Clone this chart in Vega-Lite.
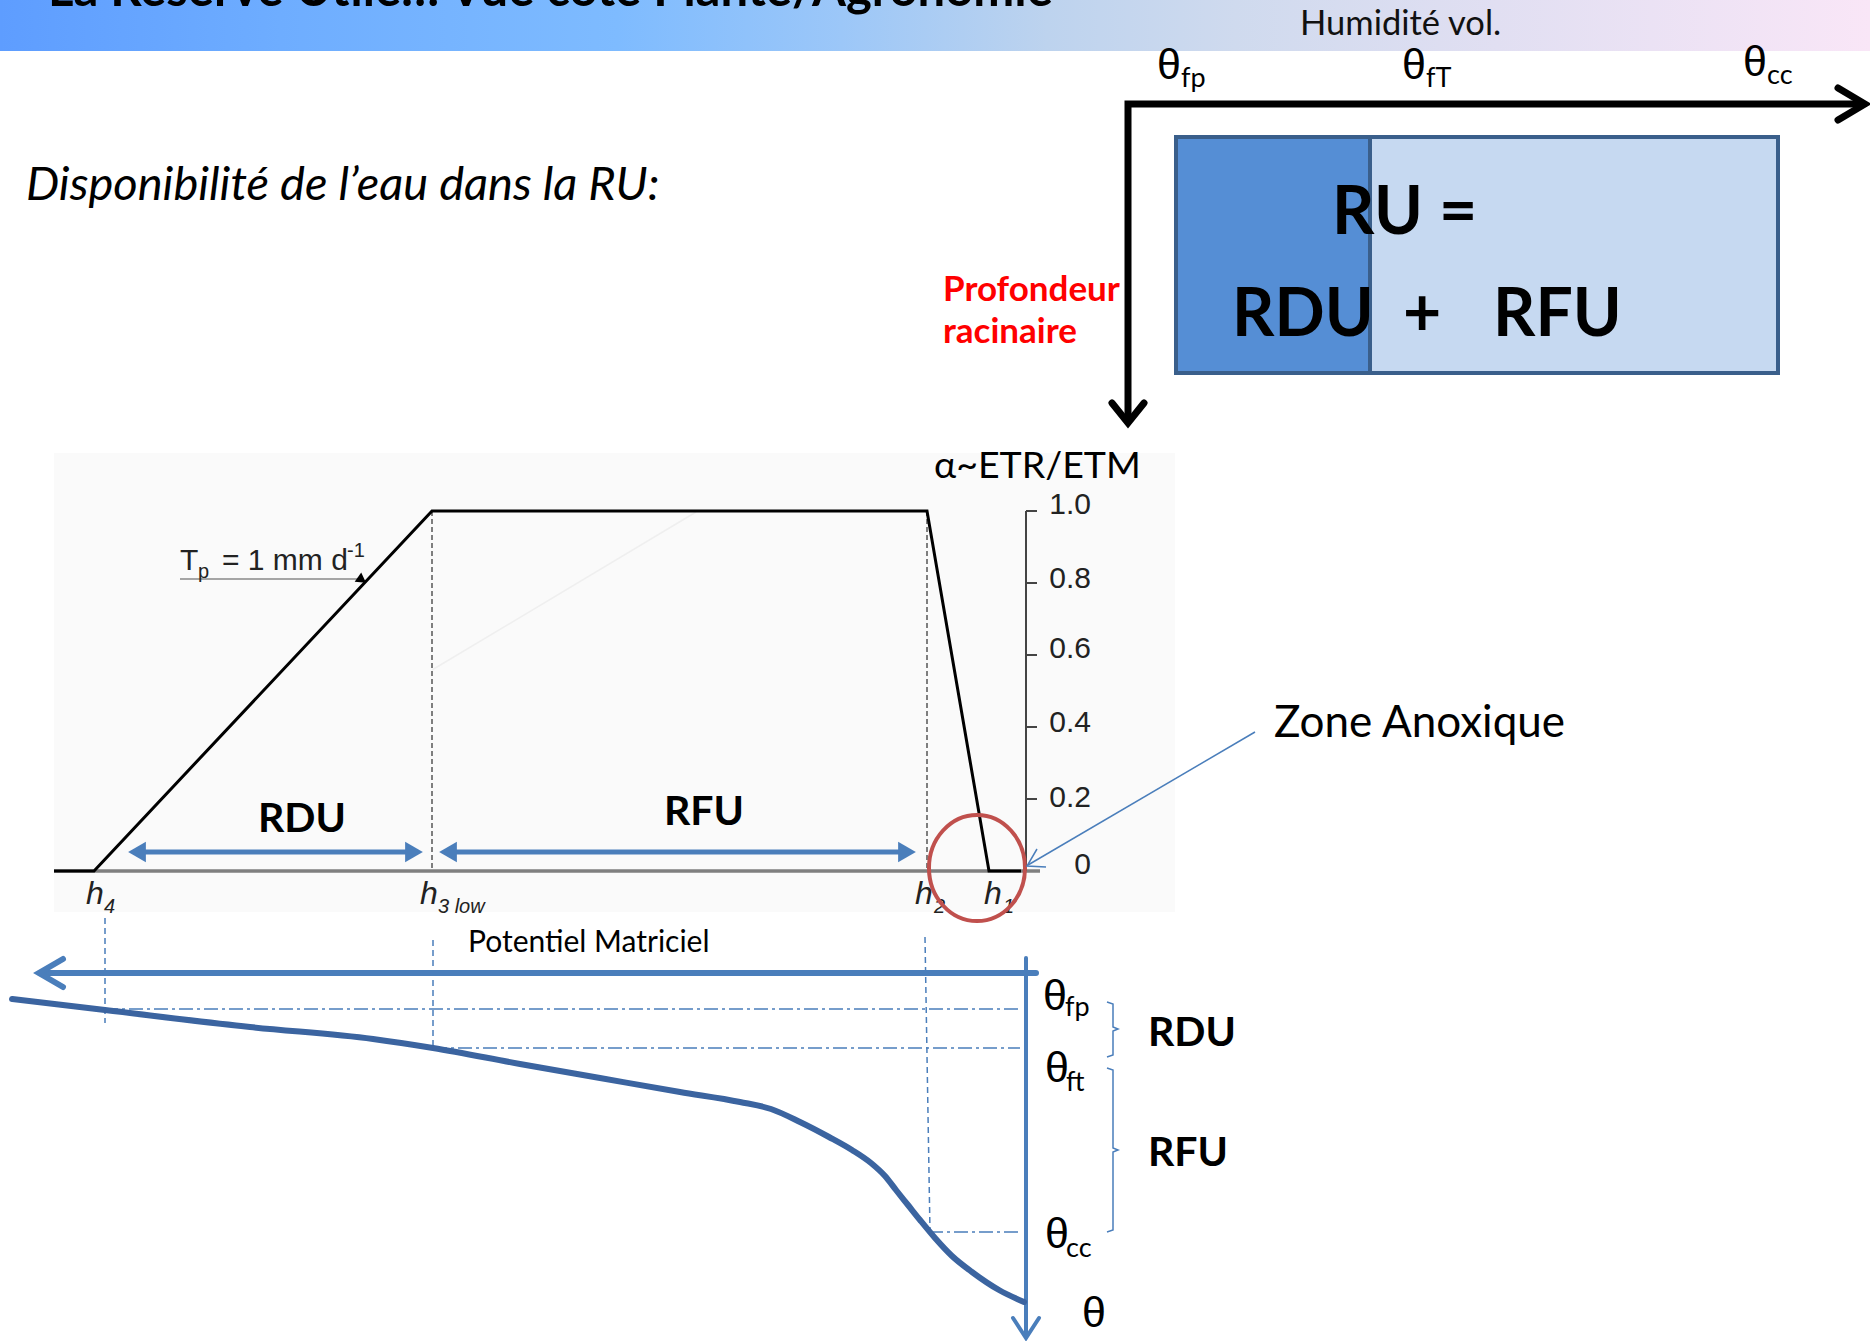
{
"$schema": "https://vega.github.io/schema/vega-lite/v6.json",
"width": 1870, "height": 1341, "autosize": "none", "padding": 0,
"background": "white",
"config": {"view": {"stroke": null}},
"datasets": {
"bar": [{"x":0,"x2":1870,"y":0,"y2":51}],
"title": [{"x":48,"y":6,"t":"La Réserve Utile… Vue côté Plante/Agronomie"}],
"humid": [{"x":1300,"y":35,"t":"Humidité vol."}],
"theta": [{"x":1157,"y":79,"t":"θ"},{"x":1402,"y":79,"t":"θ"},{"x":1743,"y":76,"t":"θ"},{"x":1043,"y":1010,"t":"θ"},{"x":1045,"y":1082,"t":"θ"},{"x":1045,"y":1248,"t":"θ"},{"x":1082,"y":1327,"t":"θ"}],
"subs": [{"x":1181,"y":87,"t":"fp"},{"x":1426,"y":87,"t":"fT"},{"x":1767,"y":84,"t":"cc"},{"x":1065,"y":1016,"t":"fp"},{"x":1066,"y":1091,"t":"ft"},{"x":1066,"y":1257,"t":"cc"}],
"blackAxes": [{"g":"L","o":1,"x":1128,"y":421},{"g":"L","o":2,"x":1128,"y":104},{"g":"L","o":3,"x":1860,"y":104},{"g":"H","o":1,"x":1838,"y":88},{"g":"H","o":2,"x":1865,"y":104},{"g":"H","o":3,"x":1838,"y":120},{"g":"V","o":1,"x":1112,"y":403},{"g":"V","o":2,"x":1128,"y":423},{"g":"V","o":3,"x":1144,"y":403}],
"ru": [{"x":1176,"x2":1370,"y":137,"y2":373,"part":"RDU"},{"x":1370,"x2":1778,"y":137,"y2":373,"part":"RFU"}],
"ruText": [{"x":1332,"y":234,"t":"RU ="},{"x":1232,"y":336,"t":"RDU"},{"x":1403,"y":336,"t":"+"},{"x":1493,"y":336,"t":"RFU"}],
"prof": [{"x":943,"y":301,"t":"Profondeur"},{"x":943,"y":343,"t":"racinaire"}],
"dispo": [{"x":26,"y":200,"t":"Disponibilité de l’eau dans la RU:"}],
"fbg": [{"x":54,"x2":1175,"y":453,"y2":912}],
"fbase": [{"x":54,"x2":1040,"y":871,"y2":871}],
"fdash": [{"x":432,"x2":432,"y":511,"y2":871},{"x":927,"x2":927,"y":511,"y2":871}],
"faint": [{"x":432,"x2":696,"y":670,"y2":512}],
"feddes": [{"o":1,"x":54,"y":871},{"o":2,"x":94,"y":871},{"o":3,"x":432,"y":511},{"o":4,"x":927,"y":511},{"o":5,"x":989,"y":871},{"o":6,"x":1021,"y":871}],
"faxis": [{"x":1026,"x2":1026,"y":511,"y2":871},{"x":1026,"x2":1037,"y":511,"y2":511},{"x":1026,"x2":1037,"y":583,"y2":583},{"x":1026,"x2":1037,"y":655,"y2":655},{"x":1026,"x2":1037,"y":727,"y2":727},{"x":1026,"x2":1037,"y":799,"y2":799}],
"flabels": [{"x":1091,"y":505,"t":"1.0"},{"x":1091,"y":579,"t":"0.8"},{"x":1091,"y":649,"t":"0.6"},{"x":1091,"y":723,"t":"0.4"},{"x":1091,"y":798,"t":"0.2"},{"x":1091,"y":865,"t":"0"}],
"alpha": [{"x":934,"y":478,"t":"α~ETR/ETM"}],
"tpBig": [{"x":180,"y":570,"t":"T"},{"x":222,"y":570,"t":"= 1 mm d"}],
"tpSmall": [{"x":198,"y":578,"t":"p"},{"x":347,"y":557,"t":"-1"}],
"tpLine": [{"x":180,"x2":362,"y":579,"y2":579}],
"tpHead": [{"x":362,"y":580}],
"blueArrows": [{"x":137,"x2":414,"y":852,"y2":852},{"x":448,"x2":907,"y":852,"y2":852}],
"blueHeadsL": [{"x":137,"y":852},{"x":448,"y":852}],
"blueHeadsR": [{"x":414,"y":852},{"x":907,"y":852}],
"rduRfuMid": [{"x":302,"y":832,"t":"RDU"},{"x":704,"y":825,"t":"RFU"}],
"rduRfuRight": [{"x":1148,"y":1046,"t":"RDU"},{"x":1148,"y":1166,"t":"RFU"}],
"ellipse": [{"x":977,"y":868}],
"zone": [{"g":"a","o":1,"x":1255,"y":732},{"g":"a","o":2,"x":1028,"y":865},{"g":"h","o":1,"x":1037,"y":849},{"g":"h","o":2,"x":1027,"y":866},{"g":"h","o":3,"x":1046,"y":867}],
"zoneText": [{"x":1274,"y":737,"t":"Zone Anoxique"}],
"hBig": [{"x":86,"y":904,"t":"h"},{"x":420,"y":904,"t":"h"},{"x":915,"y":904,"t":"h"},{"x":984,"y":904,"t":"h"}],
"hSub": [{"x":104,"y":913,"t":"4"},{"x":438,"y":913,"t":"3 low"},{"x":934,"y":913,"t":"2"},{"x":1003,"y":913,"t":"1"}],
"potentiel": [{"x":468,"y":952,"t":"Potentiel Matriciel"}],
"bDash": [{"x":105,"x2":105,"y":918,"y2":1023},{"x":433,"x2":433,"y":940,"y2":1048},{"x":925,"x2":930,"y":937,"y2":1232}],
"bDashDot": [{"x":104,"x2":1020,"y":1009,"y2":1009},{"x":433,"x2":1020,"y":1048,"y2":1048},{"x":929,"x2":1020,"y":1232,"y2":1232}],
"bH": [{"g":"l","o":1,"x":1036,"y":973},{"g":"l","o":2,"x":40,"y":973},{"g":"c","o":1,"x":63,"y":959},{"g":"c","o":2,"x":39,"y":973},{"g":"c","o":3,"x":63,"y":987}],
"bV": [{"g":"l","o":1,"x":1026,"y":958},{"g":"l","o":2,"x":1026,"y":1334},{"g":"c","o":1,"x":1013,"y":1318},{"g":"c","o":2,"x":1026,"y":1338},{"g":"c","o":3,"x":1039,"y":1318}],
"curve": [{"o":1,"x":12,"y":999},{"o":2,"x":105,"y":1010},{"o":3,"x":250,"y":1027},{"o":4,"x":373,"y":1039},{"o":5,"x":433,"y":1048},{"o":6,"x":520,"y":1064},{"o":7,"x":600,"y":1078},{"o":8,"x":680,"y":1092},{"o":9,"x":740,"y":1102},{"o":10,"x":771,"y":1109},{"o":11,"x":800,"y":1122},{"o":12,"x":829,"y":1137},{"o":13,"x":852,"y":1150},{"o":14,"x":871,"y":1163},{"o":15,"x":885,"y":1176},{"o":16,"x":896,"y":1190},{"o":17,"x":908,"y":1205},{"o":18,"x":920,"y":1220},{"o":19,"x":935,"y":1238},{"o":20,"x":952,"y":1256},{"o":21,"x":972,"y":1272},{"o":22,"x":999,"y":1290},{"o":23,"x":1024,"y":1302}],
"braces": [{"g":"a","o":1,"x":1107,"y":1002},{"g":"a","o":2,"x":1113,"y":1004},{"g":"a","o":3,"x":1113,"y":1027},{"g":"a","o":4,"x":1118,"y":1029},{"g":"a","o":5,"x":1113,"y":1031},{"g":"a","o":6,"x":1113,"y":1055},{"g":"a","o":7,"x":1107,"y":1057},{"g":"b","o":1,"x":1107,"y":1068},{"g":"b","o":2,"x":1113,"y":1070},{"g":"b","o":3,"x":1113,"y":1148},{"g":"b","o":4,"x":1118,"y":1150},{"g":"b","o":5,"x":1113,"y":1152},{"g":"b","o":6,"x":1113,"y":1230},{"g":"b","o":7,"x":1107,"y":1232}]
},
"encoding": {
"x": {"field":"x","type":"quantitative","scale":{"domain":[0,1870],"nice":false,"zero":false},"axis":null},
"y": {"field":"y","type":"quantitative","scale":{"domain":[0,1341],"nice":false,"zero":false,"reverse":true},"axis":null}
},
"layer": [
{"data":{"name":"bar"},"mark":{"type":"rect","color":{"gradient":"linear","x1":0,"y1":0,"x2":1,"y2":0,"stops":[{"offset":0,"color":"#5E9DFF"},{"offset":0.15,"color":"#6EADFF"},{"offset":0.33,"color":"#7EBBFF"},{"offset":0.45,"color":"#9CC7F8"},{"offset":0.56,"color":"#BDD3EE"},{"offset":0.66,"color":"#CFDAEE"},{"offset":0.8,"color":"#E1DFF2"},{"offset":1,"color":"#F9E6F7"}]}},"encoding":{"x2":{"field":"x2"},"y2":{"field":"y2"}}},
{"data":{"name":"title"},"mark":{"type":"text","font":"Lato","fontWeight":"bold","fontSize":49,"align":"left","baseline":"alphabetic","color":"#000"},"encoding":{"text":{"field":"t"}}},
{"data":{"name":"humid"},"mark":{"type":"text","font":"Lato","fontSize":34.5,"align":"left","baseline":"alphabetic","color":"#111"},"encoding":{"text":{"field":"t"}}},
{"data":{"name":"theta"},"mark":{"type":"text","font":"Liberation Sans","fontSize":43,"align":"left","baseline":"alphabetic","color":"#000"},"encoding":{"text":{"field":"t"}}},
{"data":{"name":"subs"},"mark":{"type":"text","font":"Lato","fontSize":27,"align":"left","baseline":"alphabetic","color":"#000"},"encoding":{"text":{"field":"t"}}},
{"data":{"name":"ru"},"mark":{"type":"rect","stroke":"#3A5F8B","strokeWidth":4,"opacity":1},"encoding":{"x2":{"field":"x2"},"y2":{"field":"y2"},"color":{"field":"part","type":"nominal","scale":{"domain":["RDU","RFU"],"range":["#558ED5","#C6D9F1"]},"legend":null}}},
{"data":{"name":"blackAxes"},"mark":{"type":"line","color":"#000","strokeWidth":7,"strokeCap":"round","strokeJoin":"miter"},"encoding":{"detail":{"field":"g"},"order":{"field":"o"}}},
{"data":{"name":"ruText"},"mark":{"type":"text","font":"Lato","fontWeight":"bold","fontSize":66,"align":"left","baseline":"alphabetic","color":"#000"},"encoding":{"text":{"field":"t"}}},
{"data":{"name":"prof"},"mark":{"type":"text","font":"Lato","fontWeight":"bold","fontSize":35,"align":"left","baseline":"alphabetic","color":"#FF0000"},"encoding":{"text":{"field":"t"}}},
{"data":{"name":"dispo"},"mark":{"type":"text","font":"Lato","fontStyle":"italic","fontSize":47,"align":"left","baseline":"alphabetic","color":"#000"},"encoding":{"text":{"field":"t"}}},
{"data":{"name":"fbg"},"mark":{"type":"rect","color":"#FAFAFA"},"encoding":{"x2":{"field":"x2"},"y2":{"field":"y2"}}},
{"data":{"name":"faint"},"mark":{"type":"rule","color":"#EFEFEF","strokeWidth":1.5},"encoding":{"x2":{"field":"x2"},"y2":{"field":"y2"}}},
{"data":{"name":"fdash"},"mark":{"type":"rule","color":"#555","strokeWidth":1.5,"strokeDash":[5,3]},"encoding":{"x2":{"field":"x2"},"y2":{"field":"y2"}}},
{"data":{"name":"fbase"},"mark":{"type":"rule","color":"#7F7F7F","strokeWidth":3.5},"encoding":{"x2":{"field":"x2"},"y2":{"field":"y2"}}},
{"data":{"name":"faxis"},"mark":{"type":"rule","color":"#444","strokeWidth":2},"encoding":{"x2":{"field":"x2"},"y2":{"field":"y2"}}},
{"data":{"name":"feddes"},"mark":{"type":"line","color":"#000","strokeWidth":3,"strokeJoin":"miter"},"encoding":{"order":{"field":"o"}}},
{"data":{"name":"flabels"},"mark":{"type":"text","font":"Liberation Sans","fontSize":30,"align":"right","baseline":"middle","color":"#222"},"encoding":{"text":{"field":"t"}}},
{"data":{"name":"alpha"},"mark":{"type":"text","font":"Lato","fontSize":37.5,"align":"left","baseline":"alphabetic","color":"#000"},"encoding":{"text":{"field":"t"}}},
{"data":{"name":"tpLine"},"mark":{"type":"rule","color":"#888","strokeWidth":1.5},"encoding":{"x2":{"field":"x2"},"y2":{"field":"y2"}}},
{"data":{"name":"tpHead"},"mark":{"type":"point","shape":"triangle-right","filled":true,"color":"#000","opacity":1,"size":130,"angle":35}},
{"data":{"name":"tpBig"},"mark":{"type":"text","font":"Liberation Sans","fontSize":30,"align":"left","baseline":"alphabetic","color":"#222"},"encoding":{"text":{"field":"t"}}},
{"data":{"name":"tpSmall"},"mark":{"type":"text","font":"Liberation Sans","fontSize":20,"align":"left","baseline":"alphabetic","color":"#222"},"encoding":{"text":{"field":"t"}}},
{"data":{"name":"blueArrows"},"mark":{"type":"rule","color":"#4A7EBB","strokeWidth":5},"encoding":{"x2":{"field":"x2"},"y2":{"field":"y2"}}},
{"data":{"name":"blueHeadsL"},"mark":{"type":"point","shape":"triangle-left","filled":true,"color":"#4A7EBB","opacity":1,"size":420}},
{"data":{"name":"blueHeadsR"},"mark":{"type":"point","shape":"triangle-right","filled":true,"color":"#4A7EBB","opacity":1,"size":420}},
{"data":{"name":"rduRfuMid"},"mark":{"type":"text","font":"Lato","fontWeight":"bold","fontSize":41,"align":"center","baseline":"alphabetic","color":"#000"},"encoding":{"text":{"field":"t"}}},
{"data":{"name":"rduRfuRight"},"mark":{"type":"text","font":"Lato","fontWeight":"bold","fontSize":41,"align":"left","baseline":"alphabetic","color":"#000"},"encoding":{"text":{"field":"t"}}},
{"data":{"name":"hBig"},"mark":{"type":"text","font":"Liberation Sans","fontStyle":"italic","fontSize":32,"align":"left","baseline":"alphabetic","color":"#222"},"encoding":{"text":{"field":"t"}}},
{"data":{"name":"hSub"},"mark":{"type":"text","font":"Liberation Sans","fontStyle":"italic","fontSize":20,"align":"left","baseline":"alphabetic","color":"#222"},"encoding":{"text":{"field":"t"}}},
{"data":{"name":"ellipse"},"mark":{"type":"point","shape":"M-0.906,0A0.906,1,0,1,1,0.906,0A0.906,1,0,1,1,-0.906,0Z","filled":false,"stroke":"#C0504D","strokeWidth":4,"opacity":1,"size":11236}},
{"data":{"name":"zone"},"mark":{"type":"line","color":"#4A7EBB","strokeWidth":1.5},"encoding":{"detail":{"field":"g"},"order":{"field":"o"}}},
{"data":{"name":"zoneText"},"mark":{"type":"text","font":"Lato","fontSize":44,"align":"left","baseline":"alphabetic","color":"#000"},"encoding":{"text":{"field":"t"}}},
{"data":{"name":"potentiel"},"mark":{"type":"text","font":"Lato","fontSize":30,"align":"left","baseline":"alphabetic","color":"#000"},"encoding":{"text":{"field":"t"}}},
{"data":{"name":"bDash"},"mark":{"type":"rule","color":"#4A7EBB","strokeWidth":1.5,"strokeDash":[6,4]},"encoding":{"x2":{"field":"x2"},"y2":{"field":"y2"}}},
{"data":{"name":"bDashDot"},"mark":{"type":"rule","color":"#4A7EBB","strokeWidth":1.5,"strokeDash":[14,4,3,4]},"encoding":{"x2":{"field":"x2"},"y2":{"field":"y2"}}},
{"data":{"name":"bH"},"mark":{"type":"line","color":"#4A7EBB","strokeWidth":6,"strokeCap":"round"},"encoding":{"detail":{"field":"g"},"order":{"field":"o"}}},
{"data":{"name":"bV"},"mark":{"type":"line","color":"#4A7EBB","strokeWidth":4,"strokeCap":"round"},"encoding":{"detail":{"field":"g"},"order":{"field":"o"}}},
{"data":{"name":"curve"},"mark":{"type":"line","color":"#3B64A0","strokeWidth":6,"interpolate":"monotone","strokeCap":"round"},"encoding":{"order":{"field":"o"}}},
{"data":{"name":"braces"},"mark":{"type":"line","color":"#4A7EBB","strokeWidth":1.5},"encoding":{"detail":{"field":"g"},"order":{"field":"o"}}}
]
}
